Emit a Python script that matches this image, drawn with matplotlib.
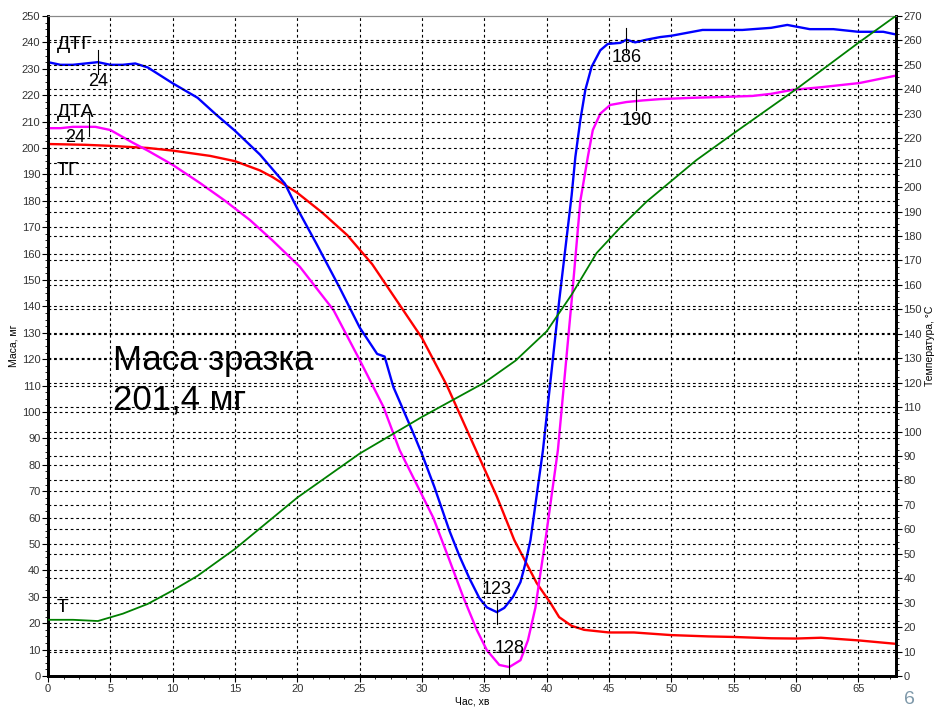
import numpy as np
import matplotlib.pyplot as plt
from matplotlib.ticker import MultipleLocator

plt.rcParams['font.family'] = ['Liberation Sans', 'DejaVu Sans']

# TG - маса зразка, мг (ліва вісь)
t_tg = [0, 3, 5, 8, 10, 13, 15, 17, 18, 20, 22, 24, 26, 28, 30, 32, 34, 36, 37.4, 39.2,
        40.3, 41, 42, 43, 45, 47, 50, 53, 55, 58, 60, 62, 65, 68]
tg = [201.5, 201.2, 200.8, 200, 199, 197, 195, 191.5, 189, 183, 175.5, 167, 156, 142,
      128, 110, 89, 68, 51.5, 35.2, 27.7, 22.3, 19, 17.5, 16.5, 16.5, 15.5, 15, 14.8,
      14.3, 14.2, 14.5, 13.5, 12.2]

# DTG
t_dtg = [0, 1, 2, 3, 4, 5, 6, 7, 8, 10, 12, 13.4, 15, 17, 19, 20, 21.5, 23.4, 25, 26.4,
         27, 27.7, 29.3, 30, 31, 32.2, 33, 33.8, 34.6, 35.2, 36, 36.6, 37.3, 37.9, 38.3,
         38.7, 39.7, 41, 42, 42.3, 42.7, 43.1, 43.6, 44.3, 44.9, 45.9, 46.4, 47.1, 48,
         49.1, 50, 52.5, 55.7, 58, 59.3, 61.1, 63, 65, 67, 68]
dtg = [232.5, 231.5, 231.5, 232, 232.5, 231.5, 231.5, 232, 230.5, 224.5, 219, 213,
       206.5, 197.5, 186.5, 177, 164, 147, 132, 122, 121, 109.5, 92, 84, 71.5, 55, 45.5,
       37, 29.5, 26, 24.2, 25.8, 30, 35.6, 42.8, 51.5, 85.5, 142, 182, 196.6,
       210.6, 222, 230.7, 237, 239.4, 239.8, 241, 240, 241, 242, 242.5, 244.7, 244.7,
       245.5, 246.6, 245, 245, 244, 244, 243]

# DTA
t_dta = [0, 1, 2, 3, 3.8, 5, 6.8, 8, 10, 12.2, 14.2, 16.2, 18, 20.2, 22.9, 25, 26.9,
         28.2, 30.9, 32.2, 33.3, 34.4, 35.2, 36.2, 37, 37.9, 38.5, 39.1, 39.5, 39.9,
         40.9, 42, 42.7, 43.3, 43.7, 44.3, 45.1, 46.4, 47.7, 49.1, 51.7, 54, 56.5, 58,
         59.7, 62, 65.1, 67.9]
dta = [207.5, 207.5, 208, 208, 208, 206.8, 202, 199, 193.6, 186.7, 180, 172.7, 165,
       155, 138.6, 119.7, 102, 85.6, 60, 43.9, 30, 17.4, 9.8, 4.2, 3.4, 6, 13.6, 26,
       39, 51.5, 85.6, 142, 180, 196.6, 206.8, 213, 216.3, 217.4, 218, 218.5, 219,
       219.3, 219.7, 220.5, 222, 223, 224.6, 227.3]

# T - температура, °С (права вісь)
t_temp = [0, 2, 4, 5, 6, 8, 10, 12, 15, 20, 25, 30, 35, 37.5, 40, 42, 44, 46, 48, 52,
          55, 60, 65, 68]
temp = [23, 23, 22.5, 24, 25.5, 29.5, 35, 41, 52, 73, 91, 106, 120, 129, 141, 156, 173,
        184, 194, 211, 222, 240, 259, 270]

# позначки піків: (час, підпис)
dtg_marks = [(4.0, '24'), (36.0, '123'), (46.4, '186')]
dta_marks = [(3.3, '24'), (37.0, '128'), (47.2, '190')]

fig = plt.figure(figsize=(9.36, 7.09), dpi=100)
ax = fig.add_axes([0.0513, 0.0465, 0.9057, 0.931])
ax2 = ax.twinx()

dash = (0, (2.5, 2.5))
ax.set_xlim(0, 68)
ax.set_ylim(0, 250)
ax2.set_ylim(0, 270)

for v in np.arange(5, 68, 5):
    ax.axvline(v, color='black', lw=0.8, ls=dash, zorder=0)
for v in np.arange(10, 250, 10):
    ax.axhline(v, color='black', lw=0.8, ls=dash, zorder=0)
for v in np.arange(10, 270, 10):
    ax2.axhline(v, color='black', lw=0.8, ls=dash, zorder=0)

ax.plot(t_tg, tg, color='#ff0000', lw=1.7, zorder=3)
ax.plot(t_dtg, dtg, color='#0000ff', lw=1.7, zorder=3)
ax.plot(t_dta, dta, color='#ff00ff', lw=1.7, zorder=3)
ax2.plot(t_temp, temp, color='#008000', lw=1.3, zorder=3)

# вертикальні рисочки та підписи піків
offsets = {'24a': (0, -14), '123': (0, 16), '186': (0, -13),
           '24b': (-10, -8), '128': (0, 13), '190': (0, -14)}
for (t0, lab), key in zip(dtg_marks, ['24a', '123', '186']):
    y0 = np.interp(t0, t_dtg, dtg)
    ax.plot([t0, t0], [y0 - 4.5, y0 + 4.5], color='black', lw=0.8, zorder=4)
    ax.annotate(lab, (t0, y0), xytext=offsets[key], textcoords='offset points',
                ha='center', va='center', fontsize=13, zorder=5)
for (t0, lab), key in zip(dta_marks, ['24b', '128', '190']):
    y0 = np.interp(t0, t_dta, dta)
    ax.plot([t0, t0], [y0 - 3.5, y0 + 4.5], color='black', lw=0.8, zorder=4)
    ax.annotate(lab, (t0, y0), xytext=offsets[key], textcoords='offset points',
                ha='center', va='center', fontsize=13, zorder=5)

ax.text(0.7, 239, 'ДТГ', fontsize=14, ha='left', va='center')
ax.text(0.7, 213.5, 'ДТА', fontsize=14, ha='left', va='center')
ax.text(0.7, 191.5, 'ТГ', fontsize=14, ha='left', va='center')
ax.text(0.7, 26, 'Т', fontsize=14, ha='left', va='center')

ax.text(5.2, 112, 'Маса зразка\n201,4 мг', fontsize=25, ha='left', va='center',
        linespacing=1.25)

ax.xaxis.set_major_locator(MultipleLocator(5))
ax.xaxis.set_minor_locator(MultipleLocator(1.25))
ax.yaxis.set_major_locator(MultipleLocator(10))
ax.yaxis.set_minor_locator(MultipleLocator(2.5))
ax2.yaxis.set_major_locator(MultipleLocator(10))
ax2.yaxis.set_minor_locator(MultipleLocator(2.5))

for a in (ax, ax2):
    a.tick_params(which='major', length=4, width=0.8, labelsize=8, colors='black',
                  labelcolor='#333333', pad=1.5)
    a.tick_params(which='minor', length=2, width=0.6)
    a.spines['top'].set_color('#888888')
    a.spines['top'].set_linewidth(0.8)
    for s in ('left', 'bottom', 'right'):
        a.spines[s].set_linewidth(2)

ax.set_xlabel('Час, хв', fontsize=7.5, labelpad=2)
ax.set_ylabel('Маса, мг', fontsize=7.5, labelpad=2)
ax2.set_ylabel('Температура, °С', fontsize=7.5, labelpad=2)

fig.text(0.972, 0.002, '6', fontsize=14, color='#7f99aa', ha='center', va='bottom')

fig.savefig('out.png', dpi=100)
